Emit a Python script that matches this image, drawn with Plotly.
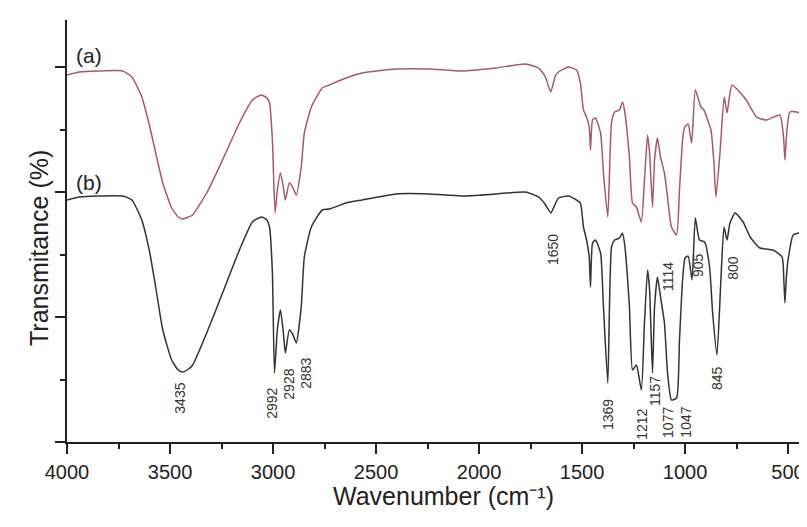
import plotly.graph_objects as go

# Wavenumber (cm^-1) and relative transmittance (arbitrary offset units)
wn_b = [4000, 3940, 3850, 3730, 3685, 3637, 3598, 3565, 3535, 3492, 3460, 3438, 3410, 3390,
        3322, 3245, 3163, 3100, 3056, 3030, 3017, 3003, 2993, 2979, 2964, 2950, 2940, 2921,
        2905, 2887, 2863, 2848, 2814, 2761, 2727, 2645, 2567, 2403, 2243, 2083, 1920, 1774,
        1711, 1680, 1652, 1630, 1614, 1566, 1527, 1508, 1493, 1478, 1465, 1459, 1449, 1435,
        1410, 1396, 1375, 1357, 1342, 1318, 1304, 1294, 1270, 1255, 1236, 1212, 1197, 1182,
        1172, 1158, 1148, 1134, 1119, 1100, 1085, 1066, 1041, 1027, 1012, 1000, 985, 966,
        950, 930, 905, 881, 866, 845, 826, 811, 796, 782, 757, 718, 684, 636, 573, 529, 520,
        515, 508, 500, 475, 441, 417, 408]
tr_b = [242, 245, 246, 246, 242, 222, 189, 149, 112, 82, 72, 70, 73, 77,
        109, 149, 192, 220, 225, 222, 215, 169, 69, 112, 132, 110, 89, 112,
        108, 99, 135, 185, 215, 232, 233, 239, 242, 248, 248, 246, 248, 250,
        245, 238, 229, 238, 244, 246, 242, 239, 215, 202, 185, 155, 199, 202,
        189, 135, 59, 195, 202, 204, 209, 199, 135, 72, 77, 52, 119, 172,
        152, 69, 135, 165, 145, 119, 69, 42, 44, 102, 162, 184, 186, 162,
        224, 202, 200, 175, 129, 87, 162, 215, 202, 219, 229, 220, 205, 194, 192, 185, 160,
        139, 165, 182, 207, 209, 195, 190]

wn_a = [4000, 3940, 3850, 3730, 3685, 3637, 3598, 3565, 3535, 3492, 3460, 3438, 3410, 3390,
        3322, 3245, 3163, 3100, 3056, 3030, 3017, 3003, 2990, 2979, 2964, 2950, 2940, 2921,
        2905, 2887, 2863, 2848, 2814, 2761, 2727, 2645, 2567, 2403, 2243, 2083, 1920, 1774,
        1711, 1680, 1652, 1630, 1614, 1566, 1527, 1508, 1493, 1478, 1465, 1459, 1449, 1435,
        1410, 1396, 1375, 1357, 1342, 1318, 1304, 1294, 1270, 1255, 1236, 1212, 1197, 1182,
        1172, 1158, 1148, 1134, 1119, 1100, 1085, 1066, 1041, 1027, 1012, 1002, 985, 968,
        950, 923, 908, 890, 874, 860, 850, 830, 810, 796, 772, 703, 653, 604, 540, 522, 515,
        508, 491, 443, 418, 408]
tr_a = [367, 370, 371, 371, 365, 345, 315, 285, 259, 234, 225, 223, 225, 227,
        249, 282, 319, 342, 347, 344, 339, 302, 229, 252, 269, 255, 242, 259,
        255, 247, 275, 309, 335, 354, 357, 364, 369, 373, 373, 371, 374, 378,
        374, 366, 350, 366, 370, 375, 372, 359, 332, 325, 315, 292, 322, 324,
        309, 269, 225, 319, 330, 332, 340, 332, 285, 239, 235, 220, 262, 307,
        289, 235, 282, 304, 285, 269, 245, 215, 207, 252, 302, 315, 318, 299,
        352, 335, 332, 322, 312, 280, 245, 290, 345, 329, 357, 342, 325, 322, 327, 305, 282,
        305, 330, 329, 315, 310]

peak_labels = ["3435", "2992", "2928", "2883", "1650", "1369", "1212", "1157", "1077",
               "1047", "1114", "905", "845", "800"]
peak_label_wn = [3453, 3006, 2924, 2841, 1641, 1374, 1210, 1146, 1083, 997, 1083, 937, 845, 768]
peak_label_tr = [44, 39, 58, 69, 193, 28, 18, 51, 20, 20, 166, 177, 64, 174]

x_ticks = [4000, 3500, 3000, 2500, 2000, 1500, 1000, 500]

FONT = "Arial, 'Liberation Sans', sans-serif"
AX = "#222222"

fig = go.Figure()
fig.add_trace(go.Scatter(x=wn_a, y=tr_a, mode="lines", line_shape="spline",
                         line=dict(color="#a65a68", width=1.5, smoothing=0.5), showlegend=False))
fig.add_trace(go.Scatter(x=wn_b, y=tr_b, mode="lines", line_shape="spline",
                         line=dict(color="#333333", width=1.5, smoothing=0.5), showlegend=False))

for t, xv, yv in zip(peak_labels, peak_label_wn, peak_label_tr):
    fig.add_annotation(x=xv, y=yv, text=t, textangle=-90, showarrow=False,
                       font=dict(family=FONT, size=14, color="#333333"))

fig.add_annotation(x=3965, y=387, text="(a)", showarrow=False, xanchor="left",
                   font=dict(family=FONT, size=21, color="#222222"))
fig.add_annotation(x=3965, y=260, text="(b)", showarrow=False, xanchor="left",
                   font=dict(family=FONT, size=21, color="#222222"))

fig.add_annotation(xref="paper", yref="paper", x=(443 - 67) / 740, y=(442 - 512) / 422,
                   text="Wavenumber (cm⁻¹)", showarrow=False,
                   font=dict(family=FONT, size=25, color="#222222"))
fig.add_annotation(xref="paper", yref="paper", x=(23 - 67) / 740, y=(442 - 248) / 422,
                   text="Transmitance (%)", textangle=-90, showarrow=False,
                   font=dict(family=FONT, size=25, color="#222222"))

common_x = dict(range=[4000, 408], tickvals=x_ticks, showgrid=False, zeroline=False,
                showline=True, linewidth=2, linecolor=AX, tickwidth=2, tickcolor=AX)
# page body has an 8px default margin, so the figure is 8px smaller and margins shifted
fig.update_layout(
    width=799, height=519,
    margin=dict(l=59, r=0, t=12, b=85),
    paper_bgcolor="white", plot_bgcolor="white",
    xaxis=dict(**common_x, ticks="outside", ticklen=10,
               minor=dict(dtick=250, tick0=0, ticks="outside", ticklen=5, tickwidth=2, tickcolor=AX),
               tickfont=dict(family=FONT, size=20, color="#222222"), ticklabelstandoff=1),
    xaxis2=dict(**common_x, overlaying="x", side="top", anchor="y", ticks="inside", ticklen=8,
                minor=dict(dtick=250, tick0=0, ticks="inside", ticklen=5, tickwidth=2, tickcolor=AX),
                showticklabels=False),
    yaxis=dict(range=[0, 422], tick0=0, dtick=125, showticklabels=False, showgrid=False,
               zeroline=False, showline=True, linewidth=2, linecolor=AX, ticks="outside",
               ticklen=10, tickwidth=2, tickcolor=AX,
               minor=dict(dtick=62.5, tick0=0, ticks="outside", ticklen=5, tickwidth=2, tickcolor=AX)),
    yaxis2=dict(range=[0, 422], tick0=0, dtick=125, showticklabels=False, showgrid=False,
                zeroline=False, showline=False, overlaying="y", side="right", anchor="x",
                ticks="inside", ticklen=7, tickwidth=2, tickcolor=AX,
                minor=dict(dtick=62.5, tick0=0, ticks="inside", ticklen=5, tickwidth=2, tickcolor=AX)),
)

fig.write_html("out.html")
